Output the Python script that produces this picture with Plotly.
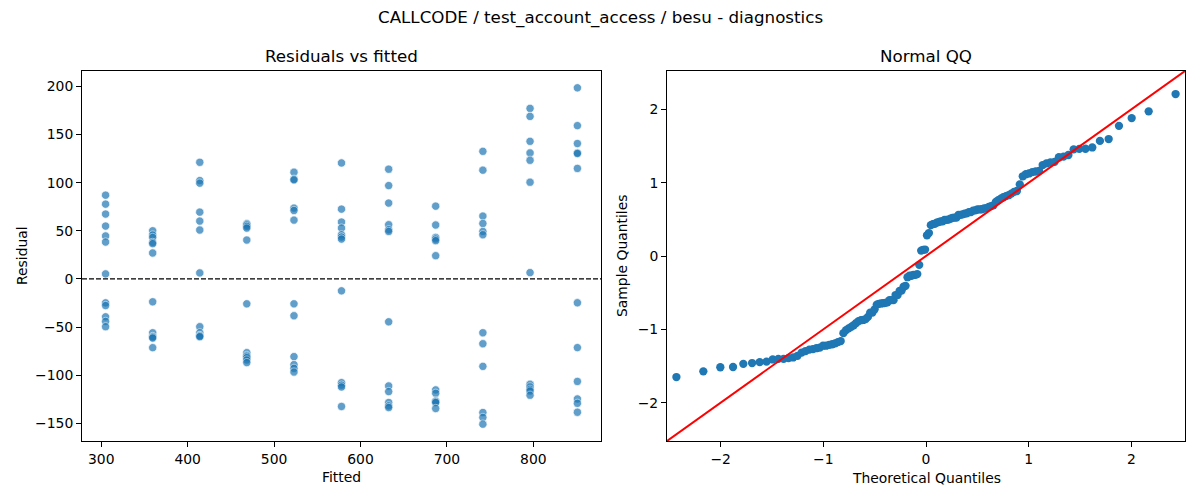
from statistics import NormalDist

import plotly.graph_objects as go

# fitted value of each group (x positions of the point columns)
FITTED = [305.0, 359.5, 414.0, 468.4, 523.0, 578.0, 632.6, 687.0, 741.6, 796.2, 851.0]

# residuals read per fitted group
RES_305 = [87.0, 77.7, 67.4, 54.9, 44.6, 38.3, 5.2, -24.9, -27.7, -39.4, -44.2, -49.7]
RES_360 = [50.0, 45.6, 43.1, 37.9, 36.6, 26.9, -23.8, -56.0, -59.8, -60.5, -61.5, -71.5]
RES_414 = [121.2, 102.2, 99.5, 69.4, 60.1, 50.8, 6.2, -49.7, -56.0, -58.8, -59.4, -60.1]
RES_468 = [57.3, 56.0, 54.5, 52.8, 40.4, -25.9, -76.7, -79.5, -80.5, -81.9, -84.3, -87.0]
RES_523 = [110.9, 103.6, 102.9, 73.6, 71.1, 61.1, -25.9, -38.3, -80.8, -89.1, -93.0, -96.8]
RES_578 = [120.5, 72.5, 59.1, 52.8, 45.9, 43.5, 41.4, -12.4, -107.8, -110.5, -112.3, -132.6]
RES_633 = [114.0, 97.0, 78.8, 56.3, 51.1, 49.3, -44.6, -111.3, -117.1, -128.5, -132.0, -133.7]
RES_687 = [75.6, 56.0, 43.1, 41.4, 39.7, 24.1, -115.4, -118.9, -126.8, -127.6, -128.5, -134.7]
RES_742 = [132.6, 113.0, 65.3, 57.6, 49.3, 45.9, -56.0, -67.4, -90.9, -138.9, -144.0, -151.0]
RES_796 = [177.2, 168.9, 143.0, 130.9, 123.3, 100.5, 6.5, -109.5, -112.3, -114.7, -116.5, -120.9]
RES_851 = [198.6, 159.3, 140.7, 131.0, 130.3, 114.8, -24.8, -71.4, -106.6, -124.8, -129.3, -138.6]

X_TICKS = [300, 400, 500, 600, 700, 800]
Y_TICKS = [-150, -100, -50, 0, 50, 100, 150, 200]
QQ_TICKS = [-2, -1, 0, 1, 2]
QQ_LIM = 2.523

FONT = "DejaVu Sans"
BLUE = "#1f77b4"

# the page body has an 8px margin, so the figure is shrunk and every
# window pixel position is shifted by that much
OFFSET = 8
FIG_W = 1200 - OFFSET
FIG_H = 500 - OFFSET


def px_x(px):
    return (px - OFFSET) / FIG_W


def px_y(py):
    return 1 - (py - OFFSET) / FIG_H


groups = [RES_305, RES_360, RES_414, RES_468, RES_523, RES_578,
          RES_633, RES_687, RES_742, RES_796, RES_851]

fitted = []
residuals = []
for fv, res in zip(FITTED, groups):
    fitted += [fv] * len(res)
    residuals += res

# normal QQ: standardised sorted residuals vs normal quantiles at i/(n+1)
n = len(residuals)
mean = sum(residuals) / n
std = (sum((r - mean) ** 2 for r in residuals) / n) ** 0.5
sample_q = sorted((r - mean) / std for r in residuals)
theo_q = [NormalDist().inv_cdf(i / (n + 1)) for i in range(1, n + 1)]


def pad_range(values, frac=0.05):
    lo, hi = min(values), max(values)
    span = hi - lo
    return [lo - frac * span, hi + frac * span]


fig = go.Figure()

fig.add_trace(go.Scatter(
    x=fitted, y=residuals, mode="markers",
    marker=dict(color=BLUE, size=8.3, opacity=0.7, line=dict(color="white", width=0.7)),
    xaxis="x", yaxis="y", showlegend=False,
))

fig.add_trace(go.Scatter(
    x=theo_q, y=sample_q, mode="markers",
    marker=dict(color=BLUE, size=8.3, line=dict(color=BLUE, width=0)),
    xaxis="x2", yaxis="y2", showlegend=False,
))

fig.add_trace(go.Scatter(
    x=[-QQ_LIM, QQ_LIM], y=[-QQ_LIM, QQ_LIM], mode="lines",
    line=dict(color="red", width=2),
    xaxis="x2", yaxis="y2", showlegend=False,
))

axis_style = dict(
    showgrid=False, zeroline=False,
    showline=True, mirror=True, linecolor="black", linewidth=1,
    ticks="outside", ticklen=5, tickwidth=1, tickcolor="black",
    tickfont=dict(family=FONT, size=13.9, color="black"),
)

fig.update_layout(
    width=FIG_W, height=FIG_H,
    margin=dict(l=0, r=0, t=0, b=0),
    paper_bgcolor="white", plot_bgcolor="white",
    font=dict(family=FONT, color="black"),
    xaxis=dict(domain=[px_x(82), px_x(601)], anchor="y",
               range=pad_range(fitted), tickvals=X_TICKS, **axis_style),
    yaxis=dict(domain=[px_y(441), px_y(71)], anchor="x",
               range=pad_range(residuals), tickvals=Y_TICKS, **axis_style),
    xaxis2=dict(domain=[px_x(667), px_x(1185)], anchor="y2",
                range=[-QQ_LIM, QQ_LIM], tickvals=QQ_TICKS, **axis_style),
    yaxis2=dict(domain=[px_y(441), px_y(71)], anchor="x2",
                range=[-QQ_LIM, QQ_LIM], tickvals=QQ_TICKS, **axis_style),
    shapes=[dict(type="line", xref="x domain", yref="y", x0=0, x1=1, y0=0, y1=0,
                 line=dict(color="black", width=1.2, dash="5px,2px"))],
)

texts = [
    ("CALLCODE / test_account_access / besu - diagnostics", 600, 18, 16.7, 0),
    ("Residuals vs fitted", 341.5, 56, 16.7, 0),
    ("Normal QQ", 926, 56, 16.7, 0),
    ("Fitted", 341.5, 477, 13.9, 0),
    ("Residual", 22, 256, 13.9, -90),
    ("Theoretical Quantiles", 926, 478, 13.9, 0),
    ("Sample Quantiles", 622, 256, 13.9, -90),
]
for text, px, py, size, angle in texts:
    fig.add_annotation(
        text=text, x=px_x(px), y=px_y(py), xref="paper", yref="paper",
        xanchor="center", yanchor="middle", showarrow=False, textangle=angle,
        font=dict(family=FONT, size=size, color="black"),
    )

fig.write_html("out.html")
